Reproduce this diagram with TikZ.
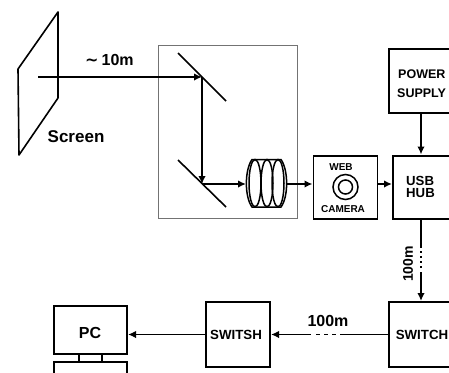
\documentclass[tikz,border=0pt]{standalone}
\usepackage{fontspec}
\setmainfont{Liberation Sans}
\newfontfamily\tildefont{DejaVu Sans}
\usetikzlibrary{arrows.meta}
\tikzset{
  x=1pt,y=-1pt,
  box/.style={draw,line width=1.7pt,inner sep=0pt,outer sep=0pt,anchor=north west},
  thin box/.style={draw=black!55,line width=0.9pt},
  wire/.style={line width=1.7pt,-{Latex[length=8pt,width=7.5pt]}},
  mirror/.style={line width=1.6pt},
  lab/.style={font=\bfseries\fontsize{12.5}{14}\selectfont,inner sep=0pt},
  biglab/.style={lab,font=\bfseries\fontsize{16}{18}\selectfont},
  smalllab/.style={lab,font=\bfseries\fontsize{10}{11}\selectfont},
  hublab/.style={lab,anchor=west,font=\bfseries\fontsize{13.2}{14}\selectfont},
}
\begin{document}
\begin{tikzpicture}
\useasboundingbox (0,0) rectangle (449,372);
\clip (0,0) rectangle (449,372);
% screen
\draw[line width=1.6pt,line join=round] (18,69) -- (58,12) -- (58,98) -- (19,155) -- cycle;
% optical box
\node[thin box,anchor=north west,minimum width=139.5pt,minimum height=173pt,inner sep=0pt,outer sep=0pt] (optics) at (158,45) {};
% mirrors
\coordinate (m1a) at (178,53); \coordinate (m1b) at (226,101);
\coordinate (m2a) at (178,160); \coordinate (m2b) at (226,207);
\draw[mirror] (m1a) -- (m1b);
\draw[mirror] (m2a) -- (m2b);
\coordinate (src) at (38,77);
\coordinate (hit1) at (202,77);
\coordinate (hit2) at (202,184);
\draw[wire] (src) -- (hit1);
\draw[wire] (hit1) -- (hit2);
% lens
\coordinate (lensL) at (246,184);
\coordinate (lensR) at (286,184);
\draw[wire] (hit2) -- (lensL);
\begin{scope}[line width=1.5pt]
\draw (252,159.5) -- (281,159.5) .. controls (288.5,170) and (288.5,197) .. (281,207) -- (252,207) .. controls (244.5,197) and (244.5,170) .. (252,159.5) -- cycle;
\foreach \c in {255,267,278}{
  \draw (\c,183.2) ellipse (6pt and 23.7pt);
}
\end{scope}
% boxes
\node[box,minimum width=64pt,minimum height=63pt] (cam) at (313.5,156) {};
\node[box,minimum width=80pt,minimum height=63pt] (hub) at (393,156) {};
\node[box,minimum width=80pt,minimum height=64pt] (psu) at (389,49) {};
\node[box,minimum width=80pt,minimum height=65pt] (sw2) at (389,302) {};
\node[box,minimum width=64pt,minimum height=65pt] (sw1) at (206,302) {};
\node[box,minimum width=73pt,minimum height=48pt] (pc) at (54,306) {};
\node[box,minimum width=73pt,minimum height=40pt] (base) at (54,362) {};
\draw[line width=1.5pt] (79,354) -- (79,362);
\draw[line width=1.5pt] (102,354) -- (102,362);
% camera lens
\draw[line width=1.5pt] (345.5,187) circle (12.5pt);
\draw[line width=1.5pt] (345.5,187) circle (7pt);
% connectors
\coordinate (psuS) at (421,113);
\coordinate (hubN) at (421,154.5);
\draw[wire] (psuS) -- (hubN);
\draw[wire] (lensR) -- (312.5,184);
\draw[wire] (377.5,184) -- (392,184);
\coordinate (hubS) at (421,219);
\coordinate (sw2N) at (421,301);
\draw[wire] (hubS) -- (sw2N);
\fill[white] (419,248) rectangle (423,272);
\foreach \y in {251,256,261,266}{\draw[line width=1.3pt] (421,\y) -- (421,\y+2);}
\coordinate (sw2W) at (389,334.5);
\coordinate (sw1E) at (271,334.5);
\draw[wire] (sw2W) -- (sw1E);
\fill[white] (311,332) rectangle (344,337);
\foreach \x in {316,324,332,340}{\draw[line width=1.3pt] (\x,334.5) -- (\x+3.5,334.5);}
\draw[wire] (206,334.5) -- (128,334.5);
% labels
\node[biglab,anchor=west] (dist) at (85,60) {{\tildefont ∼}\hspace{3pt}10m};
\node[biglab,anchor=west,font=\bfseries\fontsize{17}{18}\selectfont] (scr) at (47.5,137) {Screen};
\node[lab,anchor=west] at (398,74) {POWER};
\node[lab,anchor=west] at (397,93) {SUPPLY};
\node[smalllab] at (341,167) {WEB};
\node[smalllab] at (343,209) {CAMERA};
\node[hublab] at (406,181) {USB};
\node[hublab] at (406,193) {HUB};
\node[biglab,font=\bfseries\fontsize{14}{14}\selectfont,rotate=90] at (408,264) {100m};
\node[biglab] at (328,320.5) {100m};
\node[lab,font=\bfseries\fontsize{13.3}{14}\selectfont] at (236,335) {SWITSH};
\node[lab,font=\bfseries\fontsize{13.3}{14}\selectfont] at (422,335) {SWITCH};
\node[biglab] at (90,332.5) {PC};
\end{tikzpicture}
\end{document}
